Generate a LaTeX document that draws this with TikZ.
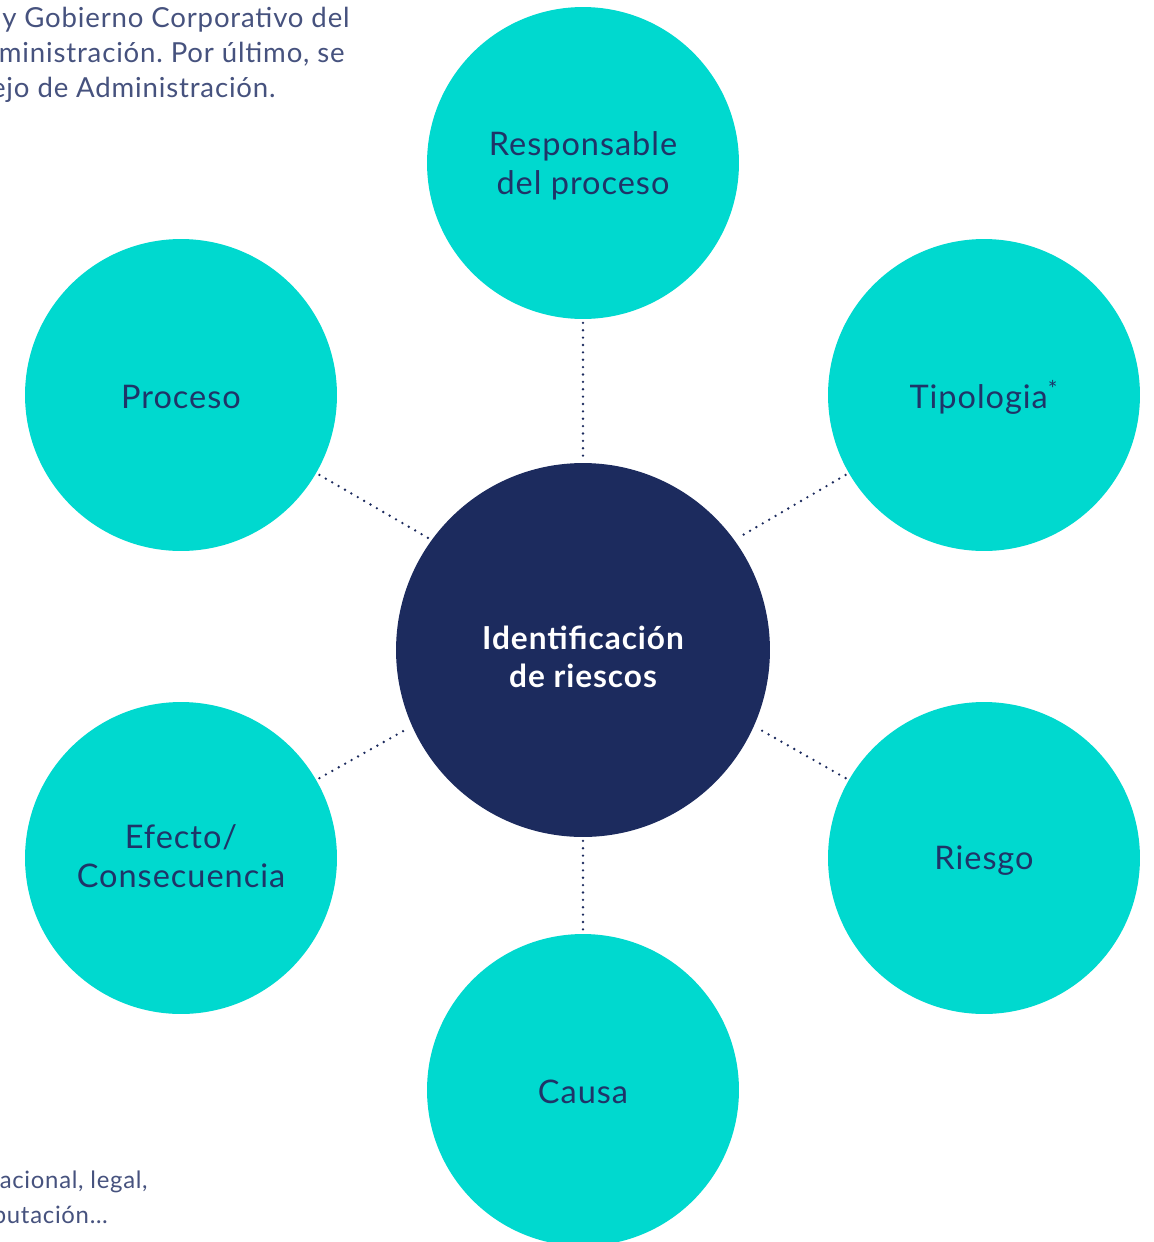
\documentclass[tikz,border=0pt]{standalone}
\usepackage{fontspec}
\setmainfont[LetterSpace=3]{Lato}
\definecolor{teal}{HTML}{00D9CF}
\definecolor{navy}{HTML}{1C2B5E}
\definecolor{labtxt}{HTML}{1F3468}
\definecolor{bodytxt}{HTML}{46527E}
\begin{document}
\frenchspacing
\begin{tikzpicture}[x=0.02cm,y=-0.02cm,
  leaf/.style={circle,fill=teal,draw=none,minimum size=6.24cm,inner sep=0pt},
  leaftext/.style={text=labtxt,align=center,inner sep=0pt,font=\fontsize{18.5}{22}\selectfont},
  hub/.style={circle,fill=navy,draw=none,minimum size=7.48cm,inner sep=0pt},
  hubtext/.style={text=white,align=center,inner sep=0pt,font=\fontsize{18}{22}\selectfont\bfseries},
  link/.style={navy,line width=1.5pt,dash pattern=on 0pt off 4.2pt,line cap=round,shorten >=2pt,shorten <=2pt},
  body/.style={text=bodytxt,inner sep=0pt,font=\fontsize{15.7}{20}\selectfont},
  small/.style={text=bodytxt,inner sep=0pt,font=\fontsize{13.6}{20}\selectfont}]
\useasboundingbox (0,0) rectangle (1154,1242);
\clip (0,0) rectangle (1154,1242);
\fill[white] (0,0) rectangle (1154,1242);

\node[hub] (c) at (583,650) {};
\node[hubtext] (ct) at (583,657) {Identificación\\de riescos};
\node[leaf] (resp) at (583,163) {};
\node[leaftext] (resptext) at (583,166) {Responsable\\del proceso};
\node[leaf] (proc) at (181,395) {};
\node[leaftext] (proctext) at (181,397) {Proceso};
\node[leaf] (tipo) at (984,395) {};
\node[leaftext] (tipotext) at (984,397) {Tipologia\textsuperscript{*}};
\node[leaf] (efec) at (181,858) {};
\node[leaftext] (efectext) at (181,856) {Efecto/\\Consecuencia};
\node[leaf] (ries) at (984,858) {};
\node[leaftext] (riestext) at (984,861) {Riesgo};
\node[leaf] (caus) at (583,1090) {};
\node[leaftext] (caustext) at (583,1092) {Causa};

\draw[link] (resp.-90) -- (c.90);
\draw[link] (proc.-30) -- (c.144);
\draw[link] (tipo.210) -- (c.36);
\draw[link] (efec.30) -- (c.204);
\draw[link] (ries.150) -- (c.-24);
\draw[link] (c.-90) -- (caus.90);

\node[body,anchor=base east] (t1) at (350,27) {y Gobierno Corporativo del};
\node[body,anchor=base east] (t2) at (345,62) {ministración. Por último, se};
\node[body,anchor=base east] (t3) at (276,97) {ejo de Administración.};
\node[small,anchor=base east] (b1) at (148,1188) {acional, legal,};
\node[small,anchor=base east] (b2) at (108,1223) {putación…};
\end{tikzpicture}
\end{document}
